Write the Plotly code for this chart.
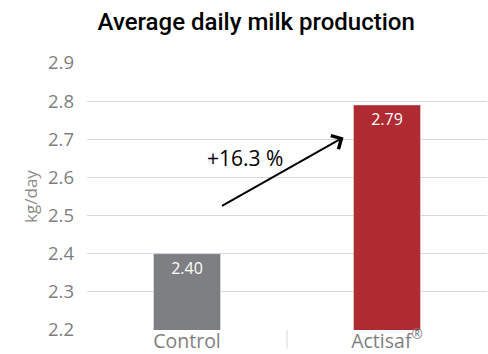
import plotly.graph_objects as go

categories = ["Control", "Actisaf<sup>®</sup>"]
values = [2.40, 2.79]
value_labels = ["2.40", "2.79"]
bar_colors = ["#7e7f83", "#b02a32"]
increase_label = "+16.3 %"
y_ticks = [2.2, 2.3, 2.4, 2.5, 2.6, 2.7, 2.8, 2.9]

FONT = "Open Sans, Roboto, DejaVu Sans, sans-serif"

fig = go.Figure()
fig.add_trace(go.Bar(
    x=categories, y=values, marker_color=bar_colors,
    text=value_labels, textposition="inside", insidetextanchor="end",
    textfont=dict(color="white", size=16, family=FONT),
    hoverinfo="skip",
))

# arrow
fig.add_annotation(x=0.7825, y=2.705, ax=0.1675, ay=2.523,
                   xref="x", yref="y", axref="x", ayref="y",
                   showarrow=True, arrowhead=4, arrowsize=1.5, arrowwidth=2,
                   arrowcolor="black", text="")
fig.add_annotation(x=0.29, y=2.652, xref="x", yref="y", text=increase_label,
                   showarrow=False, font=dict(size=21, color="black", family=FONT))

# category separator
fig.add_shape(type="line", xref="x", yref="paper", x0=0.5, x1=0.5, y0=0, y1=-0.07,
              line=dict(color="#d9d9d9", width=1))

fig.update_layout(
    width=488, height=354,
    margin=dict(l=87, r=1, t=63, b=24),
    paper_bgcolor="white", plot_bgcolor="white",
    showlegend=False, bargap=0.665,
    title=dict(text="Average daily milk production", x=0.525, xanchor="center",
               y=0.94, yanchor="middle",
               font=dict(size=24, color="black", family="Roboto, sans-serif", weight=500)),
    xaxis=dict(range=[-0.5, 1.5], showgrid=False, ticks="", automargin=False,
               ticklabelstandoff=-3,
               tickfont=dict(size=19.5, color="#7f7f7f", family=FONT)),
    yaxis=dict(range=[2.2, 2.9], tickvals=y_ticks, tickformat=".1f", automargin=False,
               showgrid=True, gridcolor="#d9d9d9", gridwidth=1, zeroline=False,
               ticks="", ticklabelstandoff=12,
               tickfont=dict(size=18.5, color="#7f7f7f", family=FONT),
               title=dict(text="kg/day", standoff=6,
                          font=dict(size=17, color="#8a8a8a", family=FONT))),
)

fig.write_html("out.html")
